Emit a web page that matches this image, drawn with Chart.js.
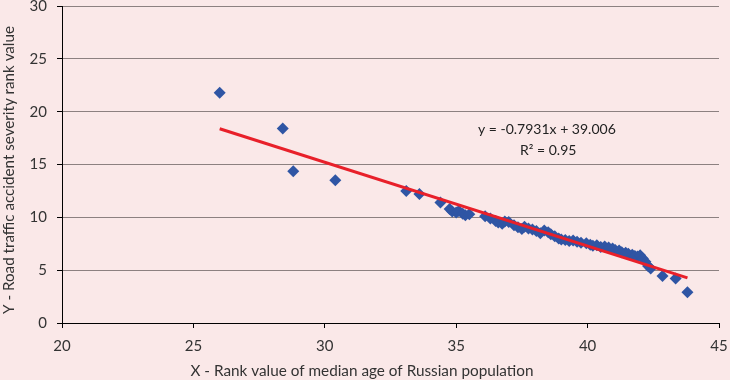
<!DOCTYPE html>
<html><head><meta charset="utf-8">
<script src="https://cdn.jsdelivr.net/npm/chart.js@4.4.0/dist/chart.umd.min.js"></script>
<style>html,body{margin:0;padding:0;background:#fae8e8;}#wrap{width:730px;height:380px;position:relative;}</style>
</head><body><div id="wrap"><canvas id="c" width="730" height="380"></canvas></div>
<script>
const xValues = [26.0,28.4,28.8,30.4,33.1,33.6,34.4,34.75,34.85,35.0,35.1,35.25,35.35,35.5,36.1,36.3,36.5,36.6,36.75,36.85,37.0,37.2,37.35,37.5,37.6,37.75,37.9,38.05,38.2,38.35,38.5,38.6,38.75,38.9,39.0,39.15,39.3,39.45,39.6,39.75,39.95,40.1,40.2,40.35,40.5,40.65,40.8,40.95,41.05,41.2,41.3,41.45,41.55,41.7,41.8,41.9,42.0,42.1,42.2,42.3,42.4,42.85,43.35,43.8];
const yValues = [21.8,18.4,14.35,13.5,12.5,12.2,11.4,10.8,10.55,10.45,10.6,10.35,10.2,10.3,10.1,9.9,9.65,9.5,9.4,9.6,9.55,9.25,9.05,8.9,9.1,8.95,8.85,8.7,8.5,8.75,8.6,8.4,8.2,8.0,7.9,7.85,7.75,7.8,7.7,7.6,7.55,7.4,7.3,7.35,7.2,7.25,7.15,7.05,6.9,6.85,6.7,6.65,6.55,6.45,6.35,6.3,6.4,6.1,5.8,5.4,5.15,4.45,4.2,2.9];
const trendSlope = -0.7931;
const trendIntercept = 39.006;
const rSquared = 0.95;
const xTicks = [20,25,30,35,40,45];
const yTicks = [0,5,10,15,20,25,30];
const xTitle = 'X - Rank value of median age of Russian population';
const yTitle = 'Y - Road traffic accident severity rank value';
const eqText = 'y = -0.7931x + 39.006';
const r2Text = 'R² = 0.95';

const points = xValues.map((x,i)=>({x:x,y:yValues[i]}));
const xMin = Math.min(...xValues), xMax = Math.max(...xValues);
const trend = [xMin,xMax].map(x=>({x:x,y:trendSlope*x+trendIntercept}));

const FONT = 'Lato, "Open Sans", sans-serif';
const textPlugin = {
  id:'texts',
  afterDraw(chart){
    const ctx = chart.ctx, xs = chart.scales.x, ys = chart.scales.y;
    ctx.save();
    ctx.fillStyle = '#222';
    ctx.textAlign = 'center';
    ctx.textBaseline = 'middle';
    ctx.font = '14px ' + FONT;
    ctx.fillText(eqText, xs.getPixelForValue(38.45), ys.getPixelForValue(18.3));
    ctx.fillText(r2Text, xs.getPixelForValue(38.5), ys.getPixelForValue(16.3));
    ctx.fillStyle = '#333';
    ctx.font = '15.3px ' + FONT;
    ctx.fillText(xTitle, 362, 371);
    ctx.font = '15.2px ' + FONT;
    ctx.translate(9, 170);
    ctx.rotate(-Math.PI/2);
    ctx.fillText(yTitle, 0, 0);
    ctx.restore();
  }
};
const bgPlugin = {
  id:'bg',
  beforeDraw(chart){
    const ctx = chart.ctx;
    ctx.save(); ctx.fillStyle = '#fae8e8'; ctx.fillRect(0,0,chart.width,chart.height); ctx.restore();
  }
};

new Chart(document.getElementById('c'), {
  type:'scatter',
  data:{datasets:[
    {label:'trend', type:'line', data:trend, borderColor:'#e8202a', borderWidth:3, pointRadius:0, fill:false, order:0},
    {label:'data', data:points, pointStyle:'rectRot', pointRadius:6, pointHoverRadius:6, backgroundColor:'#2f55a4', borderColor:'#2f55a4', borderWidth:0, order:1}
  ]},
  options:{
    responsive:false, animation:false, devicePixelRatio:1,
    layout:{padding:{top:5,right:11,left:0,bottom:0}},
    plugins:{legend:{display:false}, tooltip:{enabled:false}},
    scales:{
      x:{type:'linear', min:20, max:45,
        afterBuildTicks(s){ s.ticks = xTicks.map(v=>({value:v})); },
        afterFit(s){ s.height = 57; s.paddingLeft = 0; s.paddingRight = 0; },
        grid:{drawOnChartArea:false, drawTicks:true, tickLength:5, tickColor:'#000'},
        border:{color:'#000', width:1},
        ticks:{color:'#333', font:{family:FONT, size:15}, padding:9, maxRotation:0}
      },
      y:{type:'linear', min:0, max:30,
        afterBuildTicks(s){ s.ticks = yTicks.map(v=>({value:v})); },
        afterFit(s){ s.width = 62; s.paddingTop = 0; s.paddingBottom = 0; },
        grid:{color:'#8c8080', lineWidth:1, drawTicks:true, tickLength:5, tickColor:'#000'},
        border:{color:'#000', width:1},
        ticks:{color:'#333', font:{family:FONT, size:15}, padding:10}
      }
    }
  },
  plugins:[bgPlugin, textPlugin]
});
</script></body></html>
